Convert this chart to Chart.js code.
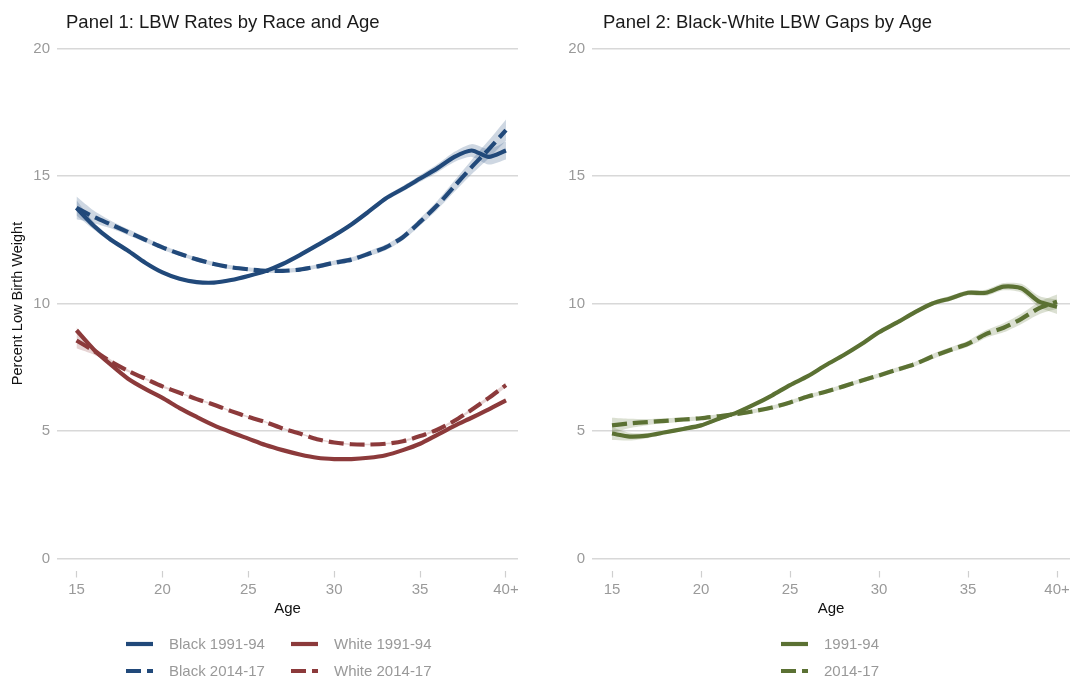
<!DOCTYPE html>
<html>
<head>
<meta charset="utf-8">
<title>LBW Rates and Gaps by Age</title>
<script src="https://cdn.jsdelivr.net/npm/chart.js@4.4.1/dist/chart.umd.min.js"></script>
<style>
    html, body { margin: 0; padding: 0; background: #fff; }
    #wrap { position: relative; width: 1070px; height: 680px; }
    .panel { position: absolute; top: 0; width: 535px; height: 680px; }
    #panel1 { left: 0; }
    #panel2 { left: 535px; }
</style>
</head>
<body>
<div id="wrap">
    <div class="panel" id="panel1"><canvas id="rateChart"></canvas></div>
    <div class="panel" id="panel2"><canvas id="gapChart"></canvas></div>
</div>
<script>
// Mother's age (40 stands for 40+)
const ages = [15, 16, 17, 18, 19, 20, 21, 22, 23, 24, 25, 26, 27, 28, 29, 30, 31, 32, 33, 34, 35, 36, 37, 38, 39, 40];
const ageTicks = [15, 20, 25, 30, 35, 40];
const ageTickLabels = ['15', '20', '25', '30', '35', '40+'];
const rateTicks = [0, 5, 10, 15, 20];

// Percent low birth weight
const blackEarly = [13.75, 13.05, 12.5, 12.07, 11.6, 11.22, 10.97, 10.84, 10.82, 10.92, 11.08, 11.27, 11.55, 11.9, 12.28, 12.67, 13.1, 13.6, 14.12, 14.5, 14.9, 15.3, 15.75, 16.0, 15.75, 16.0];
const blackLate = [13.75, 13.4, 13.1, 12.8, 12.5, 12.2, 11.95, 11.73, 11.55, 11.42, 11.34, 11.28, 11.28, 11.33, 11.45, 11.6, 11.72, 11.95, 12.2, 12.6, 13.2, 13.85, 14.6, 15.35, 16.05, 16.8];
const whiteEarly = [8.95, 8.2, 7.6, 7.05, 6.65, 6.3, 5.9, 5.55, 5.22, 4.95, 4.7, 4.45, 4.25, 4.08, 3.95, 3.9, 3.9, 3.95, 4.05, 4.25, 4.5, 4.85, 5.2, 5.52, 5.85, 6.2];
const whiteLate = [8.55, 8.15, 7.72, 7.36, 7.05, 6.75, 6.5, 6.25, 6.03, 5.78, 5.55, 5.35, 5.1, 4.9, 4.68, 4.55, 4.48, 4.47, 4.5, 4.6, 4.8, 5.05, 5.4, 5.83, 6.3, 6.8];

// Black-white gap, percentage points
const gapEarly = [4.9, 4.78, 4.82, 4.95, 5.08, 5.22, 5.48, 5.72, 6.04, 6.4, 6.8, 7.15, 7.58, 7.97, 8.4, 8.87, 9.25, 9.65, 10.0, 10.2, 10.42, 10.42, 10.66, 10.6, 10.07, 9.87];
const gapLate = [5.22, 5.3, 5.35, 5.4, 5.45, 5.5, 5.58, 5.67, 5.78, 5.92, 6.12, 6.35, 6.54, 6.75, 6.97, 7.18, 7.4, 7.62, 7.92, 8.18, 8.42, 8.8, 9.05, 9.4, 9.82, 10.07];

// Half-widths of the confidence bands
const blackEarlyCI = [0.3, 0.15, 0.1, 0.08, 0.07, 0.06, 0.06, 0.06, 0.06, 0.06, 0.06, 0.06, 0.06, 0.07, 0.07, 0.08, 0.08, 0.09, 0.1, 0.11, 0.13, 0.16, 0.2, 0.25, 0.3, 0.35];
const blackLateCI = [0.45, 0.25, 0.15, 0.12, 0.1, 0.09, 0.08, 0.08, 0.08, 0.08, 0.08, 0.08, 0.08, 0.08, 0.08, 0.09, 0.09, 0.1, 0.11, 0.12, 0.14, 0.17, 0.22, 0.28, 0.35, 0.42];
const whiteEarlyCI = [0.12, 0.06, 0.04, 0.03, 0.03, 0.03, 0.03, 0.03, 0.03, 0.03, 0.03, 0.03, 0.03, 0.03, 0.03, 0.03, 0.03, 0.03, 0.03, 0.03, 0.03, 0.04, 0.04, 0.05, 0.06, 0.07];
const whiteLateCI = [0.3, 0.15, 0.08, 0.05, 0.04, 0.04, 0.03, 0.03, 0.03, 0.03, 0.03, 0.03, 0.03, 0.03, 0.03, 0.03, 0.03, 0.03, 0.03, 0.04, 0.04, 0.05, 0.05, 0.06, 0.07, 0.09];
const gapEarlyCI = [0.25, 0.15, 0.1, 0.08, 0.07, 0.07, 0.07, 0.07, 0.07, 0.07, 0.07, 0.07, 0.07, 0.08, 0.08, 0.08, 0.08, 0.09, 0.09, 0.1, 0.1, 0.12, 0.14, 0.17, 0.22, 0.28];
const gapLateCI = [0.3, 0.18, 0.12, 0.1, 0.09, 0.08, 0.08, 0.08, 0.08, 0.08, 0.08, 0.08, 0.08, 0.08, 0.08, 0.08, 0.09, 0.09, 0.1, 0.1, 0.12, 0.15, 0.18, 0.2, 0.24, 0.28];

const FONT = '"Liberation Sans", Arial, Helvetica, sans-serif';
const NAVY = '#21497a';
const BRICK = '#8c3a3b';
const OLIVE = '#5b7133';
const DASH = [15, 6];

function toPoints(values) {
    return ages.map((age, i) => ({ x: age, y: values[i] }));
}

function lineSet(label, values, color, dashed) {
    return {
        label: label,
        data: toPoints(values),
        borderColor: color,
        borderWidth: 4.2,
        borderDash: dashed ? DASH : [],
        pointRadius: 0,
        tension: 0.25,
        fill: false,
        order: 1
    };
}

// Lower edge followed by upper edge, filled between the two
function bandSets(values, half, color) {
    const base = { borderWidth: 0, borderColor: 'transparent', pointRadius: 0, tension: 0.25, order: 2 };
    return [
        Object.assign({ label: '', data: toPoints(values.map((v, i) => v - half[i])), fill: false }, base),
        Object.assign({ label: '', data: toPoints(values.map((v, i) => v + half[i])), fill: '-1', backgroundColor: color }, base)
    ];
}

// Panel title and the line-sample legend under the axis
const panelDecor = {
    id: 'panelDecor',
    afterDraw(chart, args, opts) {
        if (!opts || !opts.legend) return;
        const ctx = chart.ctx;
        ctx.save();
        ctx.font = '18.5px ' + FONT;
        ctx.fillStyle = '#1a1a1a';
        ctx.textBaseline = 'alphabetic';
        ctx.textAlign = 'left';
        ctx.fillText(opts.title, opts.titleX, 28);

        const lines = chart.data.datasets.filter(ds => ds.label);
        lines.forEach((ds, i) => {
            const pos = opts.legend[i];
            ctx.strokeStyle = ds.borderColor;
            ctx.lineWidth = 4.2;
            ctx.setLineDash(ds.borderDash);
            ctx.beginPath();
            ctx.moveTo(pos[0], pos[1]);
            ctx.lineTo(pos[0] + 27, pos[1]);
            ctx.stroke();
            ctx.setLineDash([]);
            ctx.font = '15px ' + FONT;
            ctx.fillStyle = '#999999';
            ctx.textBaseline = 'middle';
            ctx.fillText(ds.label, pos[0] + 43, pos[1] + 1);
        });
        ctx.restore();
    }
};

function panelOptions(xMin, xMax, yTitle, rightPad, decor) {
    return {
        responsive: true,
        maintainAspectRatio: false,
        animation: false,
        layout: { padding: { left: 0, right: rightPad, top: 48.5, bottom: 62 } },
        plugins: {
            legend: { display: false },
            tooltip: { enabled: false },
            title: { display: false },
            panelDecor: decor
        },
        scales: {
            x: {
                type: 'linear',
                min: xMin,
                max: xMax,
                afterBuildTicks: scale => { scale.ticks = ageTicks.map(v => ({ value: v })); },
                afterFit: scale => { scale.paddingLeft = 0; scale.paddingRight = 0; },
                grid: {
                    drawOnChartArea: false,
                    tickLength: 19,
                    tickBorderDash: [0, 12, 7, 100],
                    tickColor: '#cfcfcf',
                    tickWidth: 1.2
                },
                border: { display: false },
                ticks: {
                    padding: 3.5,
                    color: '#9a9a9a',
                    font: { family: FONT, size: 15 },
                    maxRotation: 0,
                    callback: value => ageTickLabels[ageTicks.indexOf(value)]
                },
                title: {
                    display: true,
                    text: 'Age',
                    color: '#111',
                    font: { family: FONT, size: 15 },
                    padding: { top: -2.5, bottom: 0 }
                }
            },
            y: {
                min: 0,
                max: 20,
                afterBuildTicks: scale => { scale.ticks = rateTicks.map(v => ({ value: v })); },
                afterFit: scale => { scale.width = 57; },
                grid: {
                    color: '#d8d8d8',
                    lineWidth: 1.5,
                    drawTicks: false
                },
                border: { display: false },
                ticks: {
                    padding: 7,
                    color: '#9a9a9a',
                    font: { family: FONT, size: 15 }
                },
                title: {
                    display: !!yTitle,
                    text: yTitle,
                    color: '#111',
                    font: { family: FONT, size: 14.5 },
                    padding: 9
                }
            }
        }
    };
}

new Chart(document.getElementById('rateChart'), {
    type: 'line',
    data: {
        datasets: [
            lineSet('Black 1991-94', blackEarly, NAVY, false),
            lineSet('White 1991-94', whiteEarly, BRICK, false),
            lineSet('Black 2014-17', blackLate, NAVY, true),
            lineSet('White 2014-17', whiteLate, BRICK, true),
            ...bandSets(blackEarly, blackEarlyCI, 'rgba(33, 73, 122, 0.22)'),
            ...bandSets(blackLate, blackLateCI, 'rgba(33, 73, 122, 0.22)'),
            ...bandSets(whiteEarly, whiteEarlyCI, 'rgba(140, 58, 59, 0.22)'),
            ...bandSets(whiteLate, whiteLateCI, 'rgba(140, 58, 59, 0.22)')
        ]
    },
    options: panelOptions(13.865, 40.70, 'Percent Low Birth Weight', 17, {
        title: 'Panel 1: LBW Rates by Race and Age',
        titleX: 66,
        legend: [[126, 644], [291, 644], [126, 671], [291, 671]]
    }),
    plugins: [panelDecor]
});

new Chart(document.getElementById('gapChart'), {
    type: 'line',
    data: {
        datasets: [
            lineSet('1991-94', gapEarly, OLIVE, false),
            lineSet('2014-17', gapLate, OLIVE, true),
            ...bandSets(gapEarly, gapEarlyCI, 'rgba(91, 113, 51, 0.22)'),
            ...bandSets(gapLate, gapLateCI, 'rgba(91, 113, 51, 0.22)')
        ]
    },
    options: panelOptions(13.876, 40.73, '', 0, {
        title: 'Panel 2: Black-White LBW Gaps by Age',
        titleX: 68,
        legend: [[246, 644], [246, 671]]
    }),
    plugins: [panelDecor]
});
</script>
</body>
</html>
